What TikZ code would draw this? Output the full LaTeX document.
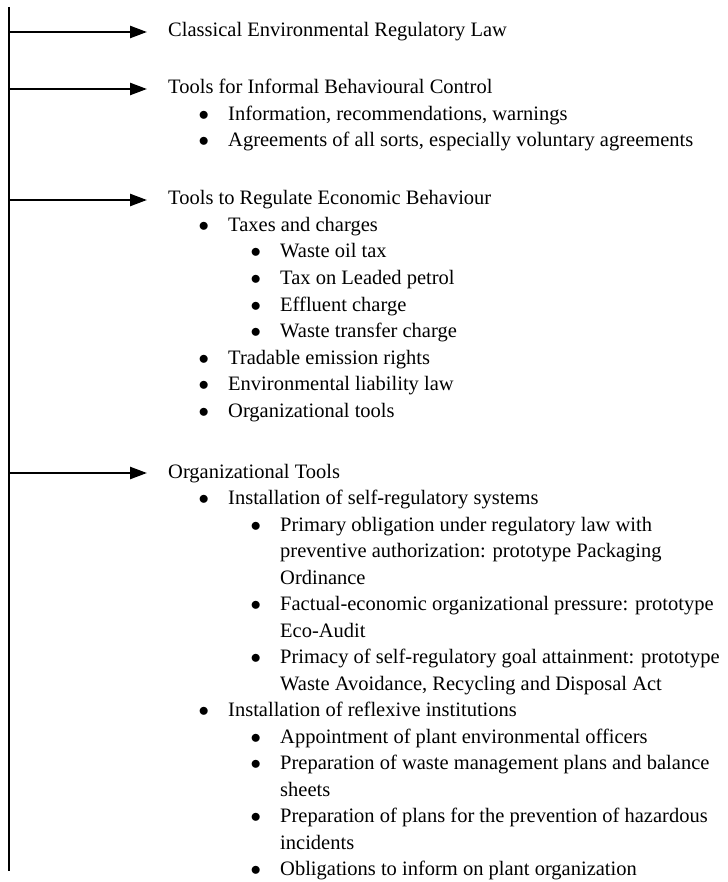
\documentclass[tikz,border=0pt]{standalone}
\usepackage{fontspec}
\setmainfont{Liberation Serif}
\usepackage{tikz}
\usetikzlibrary{arrows.meta,calc}

\tikzset{
	txt/.style={anchor=base west, inner sep=0pt, font=\fontsize{20.5}{26.5}\selectfont},
	itm/.style={txt, execute at begin node={\makebox[28pt][l]{\hspace{-1.5pt}$\bullet$}}},
	arr/.style={line width=2.4pt, -{Triangle[length=17pt,width=12pt]}, shorten >=21pt},
}

\begin{document}
\begin{tikzpicture}[x=1pt,y=-1pt]
		\useasboundingbox (0,0) rectangle (727,882);
		% spine
		\coordinate (top) at (9,7);
		\coordinate (bot) at (9,871);
		\draw[line width=2.6pt] (top) -- (bot);
		\coordinate (s1) at (9,32);
		\coordinate (s2) at (9,89);
		\coordinate (s3) at (9,200);
		\coordinate (s4) at (9,473);
		\begin{scope}
			\node[txt] (h1) at (168,37) {Classical Environmental Regulatory Law};
			\draw[arr] (s1) -- (s1 -| h1.west);
		\end{scope}
		\begin{scope}
			\node[txt] (h2) at (168,94) {Tools for Informal Behavioural Control};
			\node[itm] (a1) at (200,120.5) {Information, recommendations, warnings};
			\node[itm] (a2) at (200,147) {Agreements of all sorts, especially voluntary agreements};
			\draw[arr] (s2) -- (s2 -| h2.west);
		\end{scope}
		\begin{scope}
			\node[txt] (h3) at (168,205) {Tools to Regulate Economic Behaviour};
			\node[itm] (b1) at (200,231.5) {Taxes and charges};
			\node[itm] (b11) at (252,258) {Waste oil tax};
			\node[itm] (b12) at (252,284.5) {Tax on Leaded petrol};
			\node[itm] (b13) at (252,311) {Effluent charge};
			\node[itm] (b14) at (252,337.5) {Waste transfer charge};
			\node[itm] (b2) at (200,364) {Tradable emission rights};
			\node[itm] (b3) at (200,390.5) {Environmental liability law};
			\node[itm] (b4) at (200,417) {Organizational tools};
			\draw[arr] (s3) -- (s3 -| h3.west);
		\end{scope}
		\begin{scope}
			\node[txt] (h4) at (168,478) {Organizational Tools};
			\node[itm] (c1) at (200,504.5) {Installation of self-regulatory systems};
			\node[itm] (c11) at (252,531) {Primary obligation under regulatory law with};
			\node[txt] (c11b) at (280,557.5) {preventive authorization: prototype Packaging};
			\node[txt] (c11c) at (280,584) {Ordinance};
			\node[itm] (c12) at (252,610.5) {Factual-economic organizational pressure: prototype};
			\node[txt] (c12b) at (280,637) {Eco-Audit};
			\node[itm] (c13) at (252,663.5) {Primacy of self-regulatory goal attainment: prototype};
			\node[txt] (c13b) at (280,690) {Waste Avoidance, Recycling and Disposal Act};
			\node[itm] (c2) at (200,716.5) {Installation of reflexive institutions};
			\node[itm] (c21) at (252,743) {Appointment of plant environmental officers};
			\node[itm] (c22) at (252,769.5) {Preparation of waste management plans and balance};
			\node[txt] (c22b) at (280,796) {sheets};
			\node[itm] (c23) at (252,822.5) {Preparation of plans for the prevention of hazardous};
			\node[txt] (c23b) at (280,849) {incidents};
			\node[itm] (c24) at (252,875.5) {Obligations to inform on plant organization};
			\draw[arr] (s4) -- (s4 -| h4.west);
		\end{scope}
	\end{tikzpicture}
\end{document}
